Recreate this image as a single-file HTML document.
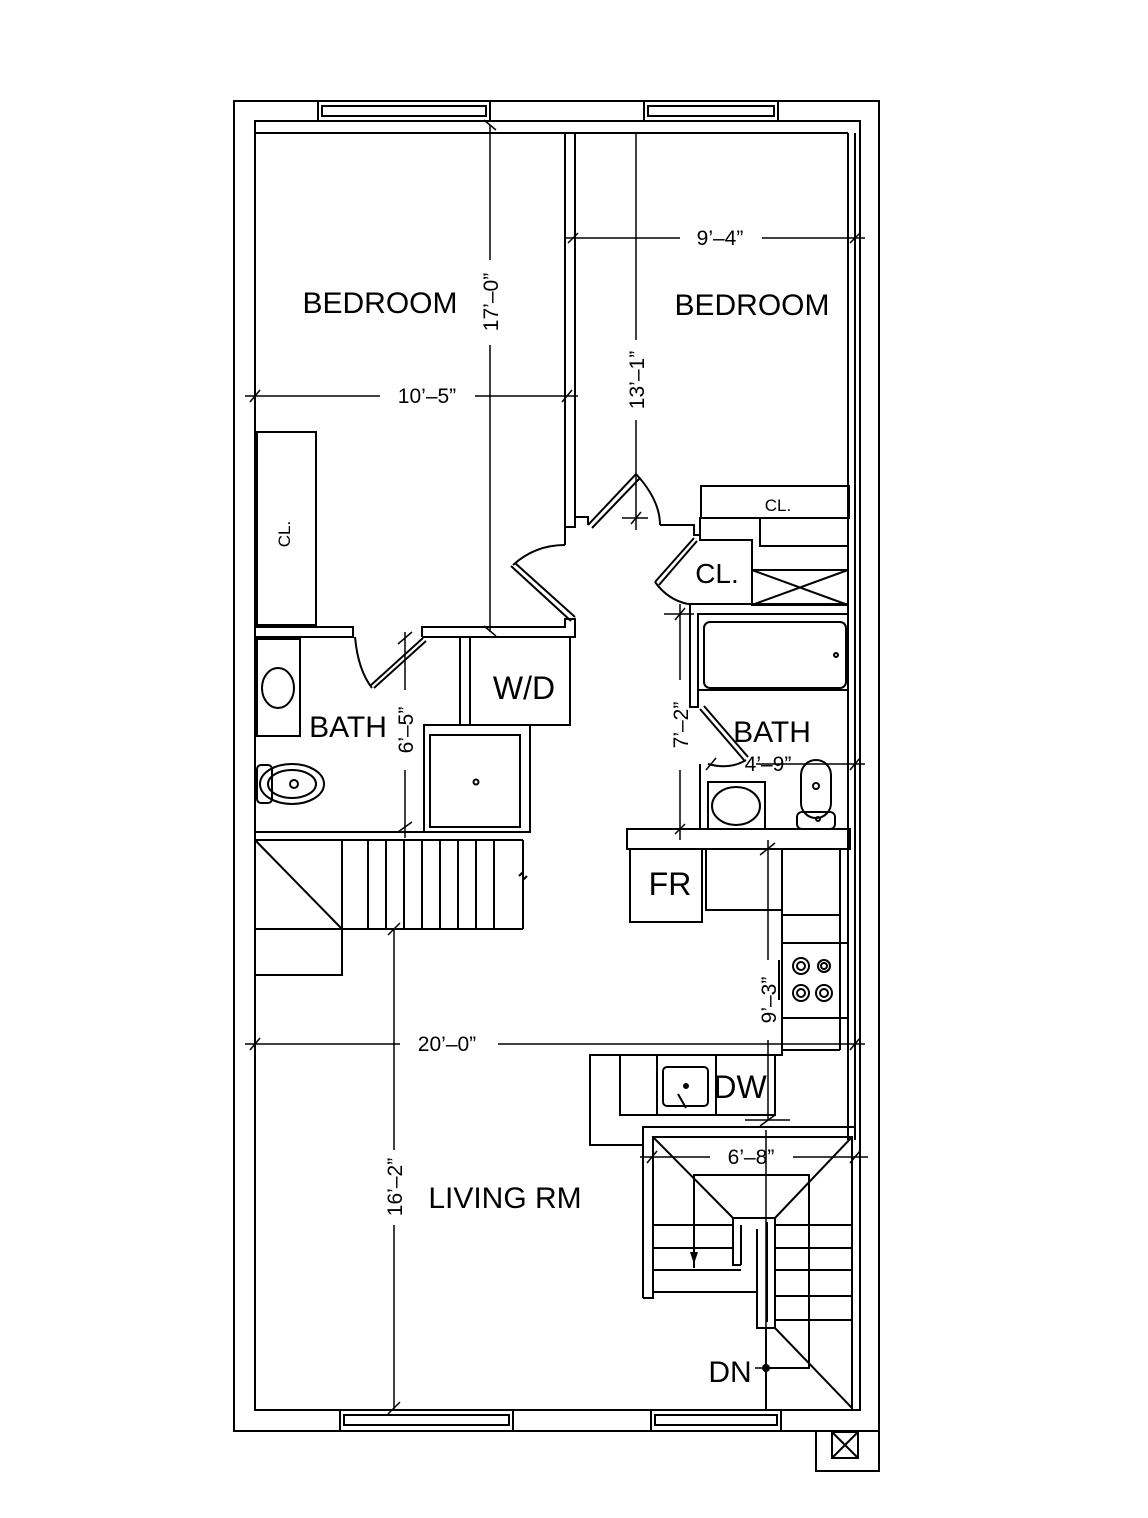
<!DOCTYPE html>
<html><head><meta charset="utf-8"><style>
html,body{margin:0;padding:0;background:#fff}
svg{display:block}
text{font-family:"Liberation Sans Narrow","Liberation Sans",sans-serif;fill:#000}
</style></head><body>
<svg width="1148" height="1518" viewBox="0 0 1148 1518" xmlns="http://www.w3.org/2000/svg">
<g fill="none" stroke="#000" stroke-width="2">
<rect x="234" y="101" width="645" height="1330"/>
<rect x="255" y="121" width="605" height="1289"/>
<line x1="255" y1="133" x2="848" y2="133"/>
<line x1="848" y1="133" x2="848" y2="1140"/>
<line x1="855" y1="133" x2="855" y2="1140"/>
<polyline points="816,1431 816,1471 879,1471 879,1431"/>
<rect x="832" y="1432" width="26" height="26"/>
<line x1="832" y1="1432" x2="858" y2="1458"/><line x1="858" y1="1432" x2="832" y2="1458"/>
<rect x="318" y="101" width="172" height="20"/><rect x="322" y="106" width="164" height="10"/>
<rect x="644" y="101" width="134" height="20"/><rect x="648" y="106" width="126" height="10"/>
<rect x="340" y="1410" width="173" height="21"/><rect x="344" y="1415" width="165" height="10"/>
<rect x="651" y="1410" width="130" height="21"/><rect x="655" y="1415" width="122" height="10"/>
<line x1="565" y1="133" x2="565" y2="527"/><line x1="575" y1="133" x2="575" y2="517"/>
<polyline points="565,527 575,527 575,517 588,517 588,525"/>
<line x1="588" y1="525" x2="636" y2="474"/><line x1="592" y1="528" x2="640" y2="478"/>
<path d="M636,474 Q660,500 660,525"/>
<polyline points="660,525 694,525 694,535 700,535 700,518 848,518"/>
<rect x="701" y="486" width="148" height="32"/>
<polyline points="760,518 760,546 848,546"/>
<polyline points="694,535 700,535 700,540 752,540 752,605"/>
<line x1="694" y1="538" x2="655" y2="582"/><line x1="697" y1="541" x2="659" y2="585"/>
<path d="M655,582 Q668,600 688,604"/>
<rect x="752" y="570" width="96" height="35"/>
<line x1="752" y1="570" x2="848" y2="605"/><line x1="848" y1="570" x2="752" y2="605"/>
<polyline points="688,604 848,604"/>
<polyline points="690,604 690,707 698,707 698,614 848,614"/>
<rect x="704" y="622" width="142" height="66" rx="6"/>
<circle cx="836" cy="655" r="2"/>
<line x1="698" y1="690" x2="848" y2="690"/>
<line x1="700" y1="709" x2="744" y2="760"/><line x1="704" y1="706" x2="748" y2="757"/>
<path d="M746,760 Q730,770 708,764"/>
<polyline points="700,764 700,830"/>
<rect x="708" y="782" width="57" height="47"/>
<ellipse cx="736" cy="806" rx="24" ry="19"/>
<rect x="801" y="760" width="30" height="58" rx="15"/>
<rect x="797" y="812" width="38" height="17" rx="5"/>
<circle cx="816" cy="786" r="3"/><circle cx="818" cy="819" r="2"/>
<rect x="627" y="829" width="223" height="20"/>
<rect x="630" y="849" width="72" height="73"/>
<polyline points="706,849 706,910 782,910"/>
<polyline points="782,849 782,1050 840,1050"/>
<line x1="840" y1="849" x2="840" y2="1050"/>
<line x1="782" y1="915" x2="840" y2="915"/>
<rect x="782" y="943" width="66" height="75"/>
<line x1="779" y1="960" x2="779" y2="1000"/>
<circle cx="801" cy="966" r="8"/><circle cx="801" cy="966" r="4"/>
<circle cx="824" cy="966" r="6"/><circle cx="824" cy="966" r="3"/>
<circle cx="801" cy="993" r="8"/><circle cx="801" cy="993" r="4"/>
<circle cx="824" cy="993" r="8"/><circle cx="824" cy="993" r="4"/>
<polyline points="782,1050 782,1055 590,1055 590,1145 643,1145"/>
<rect x="620" y="1055" width="155" height="60"/>
<line x1="657" y1="1055" x2="657" y2="1115"/><line x1="716" y1="1055" x2="716" y2="1115"/>
<rect x="663" y="1067" width="45" height="39" rx="4"/>
<circle cx="686" cy="1086" r="2" fill="#000"/>
<line x1="678" y1="1094" x2="686" y2="1108"/>
<!-- stair right -->
<polyline points="643,1298 643,1127 855,1127"/>
<polyline points="643,1298 653,1298 653,1137 852,1137 852,1410"/>
<line x1="653" y1="1137" x2="733" y2="1218"/><line x1="852" y1="1137" x2="775" y2="1218"/>
<polyline points="694,1268 694,1175 809,1175 809,1368 766,1368"/>
<polyline points="733,1218 775,1218 775,1328 757,1328 757,1292 653,1292"/>
<polyline points="741,1265 733,1265 733,1218"/>
<polyline points="741,1265 741,1225"/>
<line x1="653" y1="1225" x2="733" y2="1225"/><line x1="775" y1="1225" x2="852" y2="1225"/>
<line x1="653" y1="1248" x2="733" y2="1248"/><line x1="775" y1="1248" x2="852" y2="1248"/>
<line x1="653" y1="1270" x2="741" y2="1270"/>
<line x1="775" y1="1270" x2="852" y2="1270"/>
<line x1="775" y1="1296" x2="852" y2="1296"/>
<line x1="775" y1="1320" x2="852" y2="1320"/>
<line x1="775" y1="1328" x2="852" y2="1408"/>
<polyline points="766,1328 766,1410"/>
<line x1="757" y1="1229" x2="757" y2="1320"/><line x1="767" y1="1222" x2="767" y2="1322"/>
<!-- left -->
<rect x="257" y="432" width="59" height="193"/>
<polyline points="255,627 353,627 353,637 255,637"/>
<polyline points="422,637 422,627 565,627 565,619 575,619 575,637 422,637"/>
<line x1="575" y1="617" x2="515" y2="563"/><line x1="571" y1="621" x2="511" y2="566"/>
<path d="M513,565 Q535,545 565,545"/>
<polyline points="565,545 565,527"/>
<line x1="423" y1="638" x2="370" y2="686"/><line x1="426" y1="641" x2="374" y2="688"/>
<path d="M355,637 Q358,670 372,688"/>
<rect x="257" y="639" width="43" height="97"/>
<ellipse cx="278" cy="688" rx="16" ry="20"/>
<rect x="257" y="765" width="15" height="38" rx="4"/>
<ellipse cx="292" cy="784" rx="32" ry="20"/><ellipse cx="292" cy="784" rx="24" ry="14"/>
<circle cx="294" cy="784" r="4"/>
<polyline points="460,637 460,725 424,725 424,832 255,832"/>
<polyline points="470,637 470,725 570,725 570,637"/>
<rect x="430" y="735" width="90" height="92"/>
<rect x="424" y="725" width="106" height="107"/>
<circle cx="476" cy="782" r="2.5"/>
<line x1="255" y1="840" x2="523" y2="840"/>
<line x1="255" y1="840" x2="342" y2="929"/>
<polyline points="255,929 342,929 342,975 255,975"/>
<line x1="342" y1="840" x2="342" y2="929"/>
<line x1="523" y1="840" x2="523" y2="929"/>
<line x1="342" y1="929" x2="523" y2="929"/>
<line x1="368" y1="840" x2="368" y2="929"/><line x1="386" y1="840" x2="386" y2="929"/>
<line x1="404" y1="840" x2="404" y2="929"/><line x1="422" y1="840" x2="422" y2="929"/>
<line x1="440" y1="840" x2="440" y2="929"/><line x1="458" y1="840" x2="458" y2="929"/>
<line x1="476" y1="840" x2="476" y2="929"/><line x1="494" y1="840" x2="494" y2="929"/>
<polyline points="519,876 523,872 523,880 527,876"/>
</g>
<g fill="none" stroke="#000" stroke-width="1.5">
<line x1="490" y1="125" x2="490" y2="260"/><line x1="490" y1="345" x2="490" y2="632"/>
<line x1="484" y1="120" x2="496" y2="130"/><line x1="484" y1="626" x2="496" y2="636"/>
<line x1="245" y1="396" x2="380" y2="396"/><line x1="475" y1="396" x2="578" y2="396"/>
<line x1="250" y1="402" x2="260" y2="390"/><line x1="562" y1="402" x2="572" y2="390"/>
<line x1="565" y1="238" x2="680" y2="238"/><line x1="762" y1="238" x2="865" y2="238"/>
<line x1="568" y1="243" x2="578" y2="233"/><line x1="850" y1="243" x2="860" y2="233"/>
<line x1="636" y1="133" x2="636" y2="340"/><line x1="636" y1="420" x2="636" y2="530"/>
<line x1="622" y1="518" x2="648" y2="518"/><line x1="631" y1="524" x2="641" y2="512"/>
<line x1="405" y1="632" x2="405" y2="690"/><line x1="405" y1="770" x2="405" y2="838"/>
<line x1="398" y1="644" x2="412" y2="632"/><line x1="398" y1="832" x2="412" y2="822"/>
<line x1="680" y1="604" x2="680" y2="680"/><line x1="680" y1="770" x2="680" y2="840"/>
<line x1="664" y1="614" x2="694" y2="614"/><line x1="675" y1="620" x2="685" y2="608"/>
<line x1="675" y1="834" x2="685" y2="824"/>
<line x1="768" y1="840" x2="768" y2="960"/><line x1="768" y1="1040" x2="768" y2="1120"/>
<line x1="760" y1="855" x2="775" y2="843"/><line x1="760" y1="1126" x2="775" y2="1115"/>
<line x1="745" y1="1120" x2="790" y2="1120"/>
<line x1="245" y1="1044" x2="400" y2="1044"/><line x1="498" y1="1044" x2="865" y2="1044"/>
<line x1="250" y1="1050" x2="260" y2="1038"/><line x1="850" y1="1050" x2="860" y2="1038"/>
<line x1="394" y1="929" x2="394" y2="1150"/><line x1="394" y1="1225" x2="394" y2="1410"/>
<line x1="388" y1="935" x2="400" y2="923"/><line x1="388" y1="1414" x2="400" y2="1402"/>
<line x1="640" y1="1157" x2="710" y2="1157"/><line x1="793" y1="1157" x2="868" y2="1157"/>
<line x1="647" y1="1163" x2="657" y2="1151"/><line x1="850" y1="1163" x2="860" y2="1151"/>
<line x1="766" y1="1130" x2="766" y2="1368"/>
<line x1="756" y1="764" x2="865" y2="764"/>
<line x1="706" y1="770" x2="716" y2="758"/><line x1="850" y1="770" x2="860" y2="758"/>
<line x1="755" y1="1368" x2="766" y2="1368"/>
</g>
<polygon points="690,1252 698,1252 694,1264" fill="#000"/>
<circle cx="766" cy="1368" r="4" fill="#000"/>
<g font-size="30">
<text x="380" y="313" text-anchor="middle">BEDROOM</text>
<text x="752" y="315" text-anchor="middle">BEDROOM</text>
<text x="348" y="737" text-anchor="middle">BATH</text>
<text x="772" y="742" text-anchor="middle">BATH</text>
<text x="524" y="699" text-anchor="middle" font-size="32">W/D</text>
<text x="670" y="895" text-anchor="middle" font-size="32">FR</text>
<text x="740" y="1098" text-anchor="middle" font-size="32">DW</text>
<text x="505" y="1208" text-anchor="middle">LIVING  RM</text>
<text x="730" y="1382" text-anchor="middle">DN</text>
</g>
<g font-size="21">
<text x="427" y="403" text-anchor="middle">10’–5”</text>
<text x="720" y="245" text-anchor="middle">9’–4”</text>
<text x="447" y="1051" text-anchor="middle">20’–0”</text>
<text x="751" y="1164" text-anchor="middle">6’–8”</text>
<text x="768" y="771" text-anchor="middle">4’–9”</text>
<text transform="translate(498,302) rotate(-90)" text-anchor="middle">17’–0”</text>
<text transform="translate(644,380) rotate(-90)" text-anchor="middle">13’–1”</text>
<text transform="translate(413,730) rotate(-90)" text-anchor="middle">6’–5”</text>
<text transform="translate(688,725) rotate(-90)" text-anchor="middle">7’–2”</text>
<text transform="translate(776,1000) rotate(-90)" text-anchor="middle">9’–3”</text>
<text transform="translate(402,1187) rotate(-90)" text-anchor="middle">16’–2”</text>
<text transform="translate(290,534) rotate(-90)" text-anchor="middle" font-size="17">CL.</text>
<text x="778" y="511" text-anchor="middle" font-size="17">CL.</text>
<text x="717" y="583" text-anchor="middle" font-size="28">CL.</text>
</g>
</svg>
</body></html>
